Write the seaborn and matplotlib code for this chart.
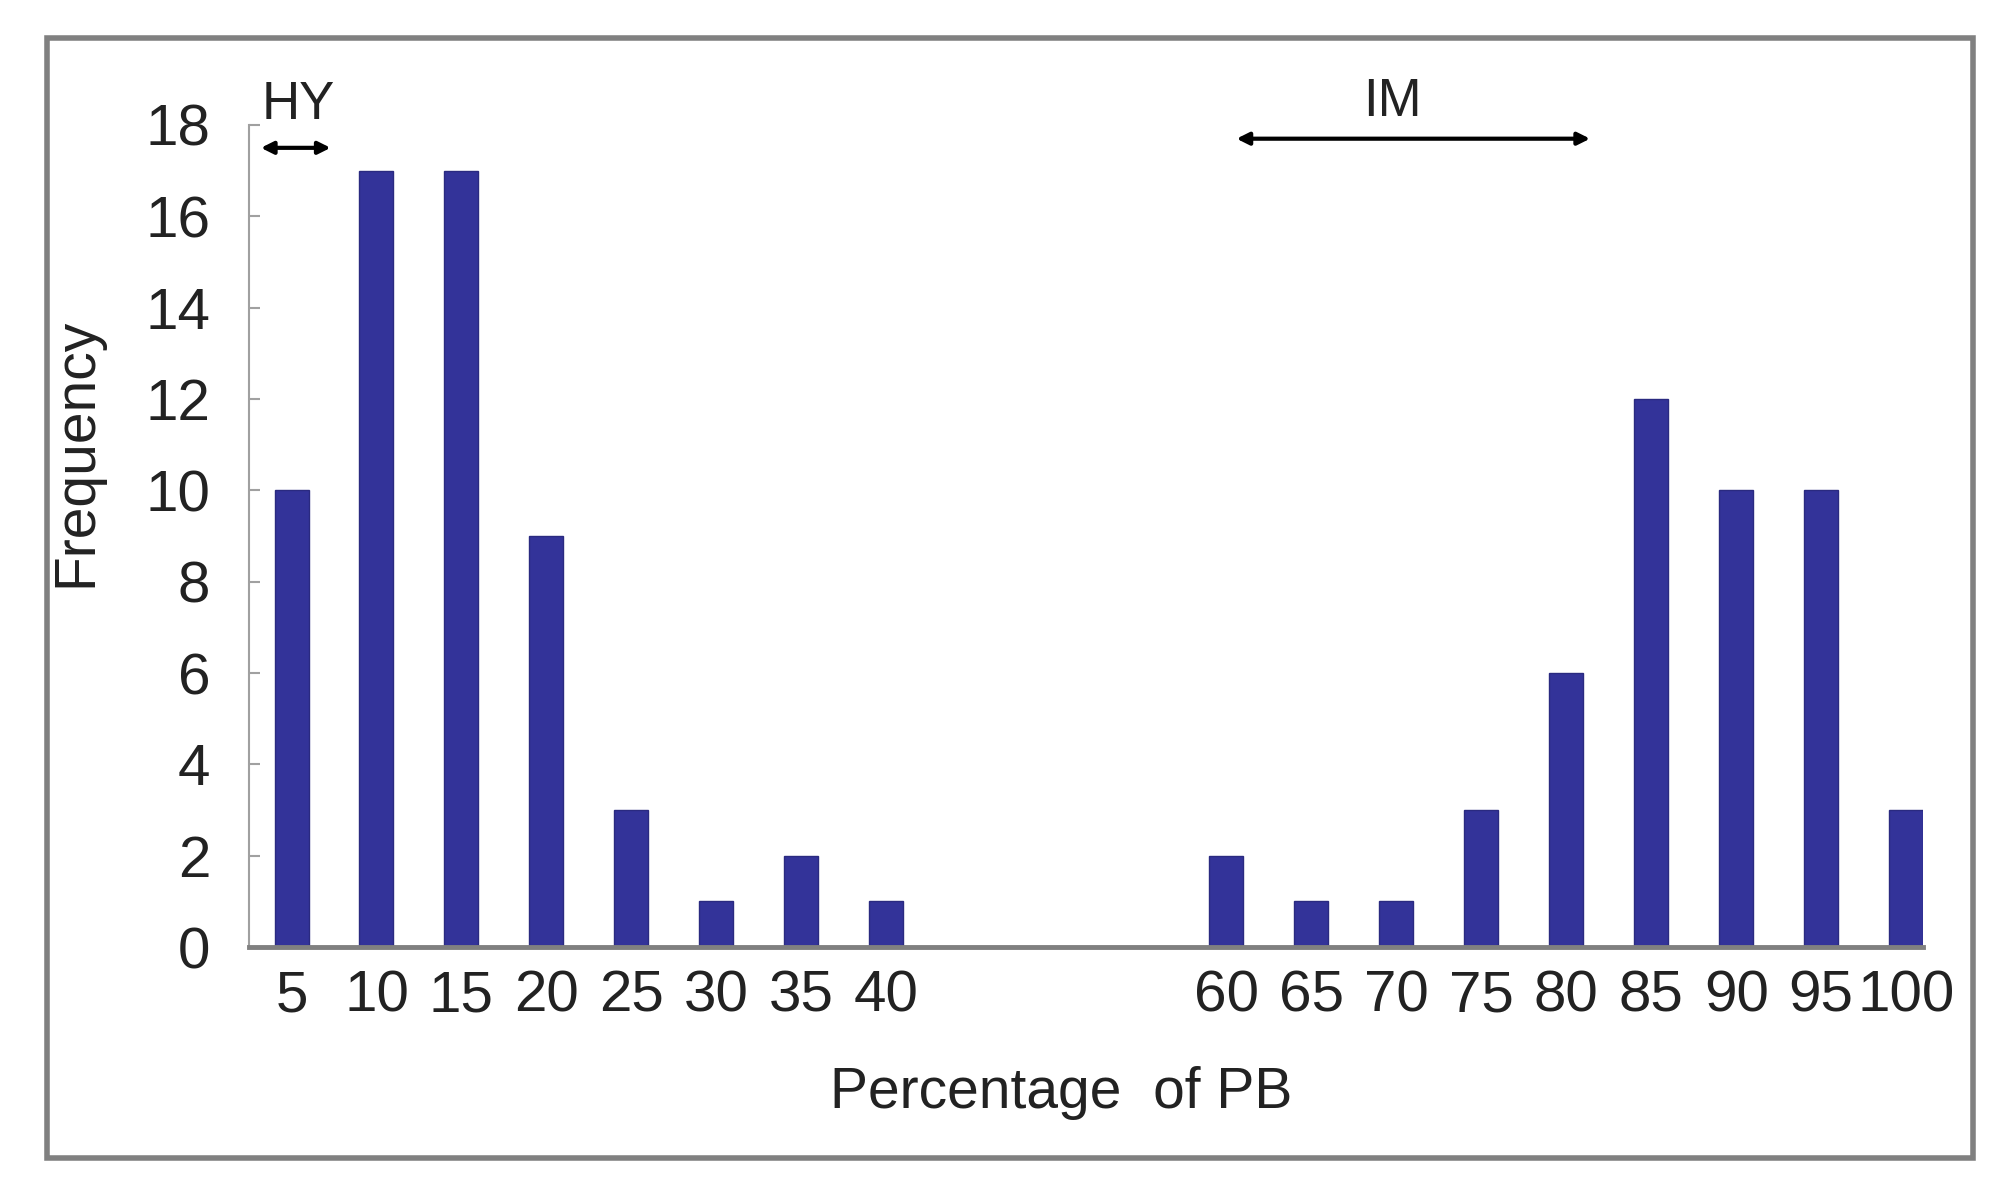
import matplotlib
matplotlib.use("Agg")
import matplotlib.pyplot as plt
import seaborn as sns
import pandas as pd
from matplotlib.patches import Rectangle

percent = [5, 10, 15, 20, 25, 30, 35, 40, 60, 65, 70, 75, 80, 85, 90, 95, 100]
frequency = [10, 17, 17, 9, 3, 1, 2, 1, 2, 1, 1, 3, 6, 12, 10, 10, 3]
tick_labels = [str(p) for p in percent]
y_ticks = [0, 2, 4, 6, 8, 10, 12, 14, 16, 18]

sns.set_theme(style="white")
FONT = ["Liberation Sans Narrow", "Liberation Sans", "DejaVu Sans"]
plt.rcParams["font.family"] = FONT

df = pd.DataFrame({"pct": percent, "freq": frequency})

fig = plt.figure(figsize=(20.05, 11.95), dpi=100)
fig.patch.set_facecolor("white")
ax = fig.add_axes([0.1242, 0.2075, 0.835, 0.6879])

sns.barplot(data=df, x="pct", y="freq", native_scale=True, width=0.4,
            color="#333399", saturation=1, edgecolor="#2a2a80", linewidth=1,
            ax=ax)

ax.set_xlim(2.5, 101.0)
ax.set_ylim(0, 18)
ax.set_xticks(percent)
ax.set_xticklabels(tick_labels)
ax.set_yticks(y_ticks)
ax.set_yticklabels([str(v) for v in y_ticks])

for s in ["top", "right"]:
    ax.spines[s].set_visible(False)
ax.spines["left"].set_color("#a0a0a0")
ax.spines["left"].set_linewidth(1.5)
ax.spines["bottom"].set_color("#808080")
ax.spines["bottom"].set_linewidth(3.5)
ax.spines["bottom"].set_zorder(5)

ax.tick_params(axis="y", direction="in", length=8, width=1.5, color="#a0a0a0",
               labelsize=42, pad=28, left=True)
ax.tick_params(axis="x", length=0, labelsize=42, pad=16)
for lbl in ax.get_xticklabels() + ax.get_yticklabels():
    lbl.set_color("#222222")

ax.set_xlabel("Percentage  of PB", fontsize=41, color="#222222")
ax.set_ylabel("Frequency", fontsize=41, color="#222222")
ax.xaxis.set_label_coords((1061 - 249) / (1923 - 249), -(1066 - 947) / (947 - 125))
ax.yaxis.set_label_coords(-(249 - 103) / (1923 - 249), (947 - 452) / (947 - 125))

# annotations
ax.annotate("", xy=(3.2, 17.5), xytext=(7.3, 17.5),
            arrowprops=dict(arrowstyle="<|-|>", color="black", lw=3,
                            mutation_scale=18, shrinkA=0, shrinkB=0),
            annotation_clip=False)
ax.text(5.4, 17.9, "HY", fontsize=38, ha="center", va="bottom", color="#222222",
        clip_on=False)
ax.annotate("", xy=(60.6, 17.7), xytext=(81.4, 17.7),
            arrowprops=dict(arrowstyle="<|-|>", color="black", lw=3,
                            mutation_scale=18, shrinkA=0, shrinkB=0),
            annotation_clip=False)
ax.text(69.8, 17.95, "IM", fontsize=38, ha="center", va="bottom", color="#222222",
        clip_on=False)

# outer frame
fig.patches.append(Rectangle((47 / 2005, 1 - 1158 / 1195), (1973 - 47) / 2005,
                             (1158 - 38) / 1195, transform=fig.transFigure,
                             fill=False, edgecolor="#808080", linewidth=4))

fig.savefig("out.png", dpi=100, facecolor="white")
